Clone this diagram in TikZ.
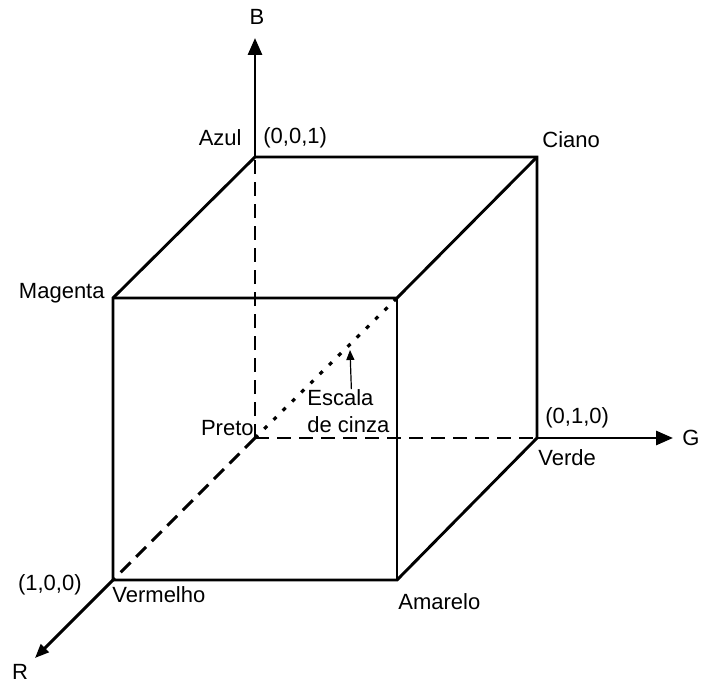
\documentclass[tikz,border=0pt]{standalone}
\usepackage{fontspec}
\setmainfont{Liberation Sans}
\usetikzlibrary{arrows.meta}
\tikzset{
  edgeline/.style={line width=1.45pt,line join=miter},
  hidden/.style={line width=1.45pt,dash pattern=on 7pt off 4pt},
  grayline/.style={line width=1.6pt,dash pattern=on 2pt off 4.5pt},
  axis/.style={line width=1.45pt,-{Triangle[length=8.5pt,width=7pt]}},
  lbl/.style={inner sep=0pt,font=\fontsize{11}{13.5}\selectfont},
}
\begin{document}
\begin{tikzpicture}[x=0.5pt,y=-0.5pt]
      \useasboundingbox (0,0) rectangle (701,684);
      % vertices of the cube
      \coordinate (Preto) at (255,438);
      \coordinate (Azul) at (255,157);
      \coordinate (Ciano) at (537,157);
      \coordinate (Verde) at (537,438);
      \coordinate (Magenta) at (113,298);
      \coordinate (Branco) at (397,298);
      \coordinate (Vermelho) at (113,580);
      \coordinate (Amarelo) at (397,580);
      \coordinate (Bend) at (255,38);
      \coordinate (Gend) at (673,438);
      \coordinate (Rend) at (35,658);
      \coordinate (ponta) at (350,350);

      \draw[edgeline] (Azul) -- (Ciano) -- (Verde) -- (Amarelo) -- (Vermelho) -- (Magenta) -- cycle;
      \draw[edgeline] (Magenta) -- (Branco) -- (Ciano);
      \draw[edgeline] (Branco) -- (Amarelo);
      \draw (Preto) edge[hidden] (Azul) edge[hidden] (Verde) edge[hidden] (Vermelho);
      \draw (Preto) edge[grayline] (Branco);
      \draw (Azul) edge[axis] (Bend);
      \draw (Verde) edge[axis] (Gend);
      \draw (Vermelho) edge[axis,-{Triangle[length=7pt,width=5.5pt]}] (Rend);

      \node[lbl,anchor=east] (lAzul) at (242,138) {Azul};
      \node[lbl,anchor=west] (lB001) at (263,138) {(0,0,1)};
      \node[lbl,anchor=west] (lCiano) at (542,140) {Ciano};
      \node[lbl,anchor=east] (lMagenta) at (105,293) {Magenta};
      \node[lbl,anchor=east] (lPreto) at (254,428) {Preto};
      \node[lbl,anchor=west,align=left] (escala) at (307,411) {Escala\\de cinza};
      \node[lbl,anchor=west] (lG010) at (545,418) {(0,1,0)};
      \node[lbl,anchor=west] (lVerde) at (538,458) {Verde};
      \node[lbl,anchor=west] (lG) at (682,438) {G};
      \node[lbl] (lB) at (257,17) {B};
      \node[lbl,anchor=east] (lR100) at (82,585) {(1,0,0)};
      \node[lbl,anchor=west] (lVermelho) at (112,595) {Vermelho};
      \node[lbl] (lR) at (20,672) {R};
      \node[lbl,anchor=west] (lAmarelo) at (398,602) {Amarelo};

      \draw ([xshift=1.5]escala.north) edge[->,>={Triangle[length=5pt,width=4pt]},line width=0.6pt] (ponta);
    \end{tikzpicture}
\end{document}
